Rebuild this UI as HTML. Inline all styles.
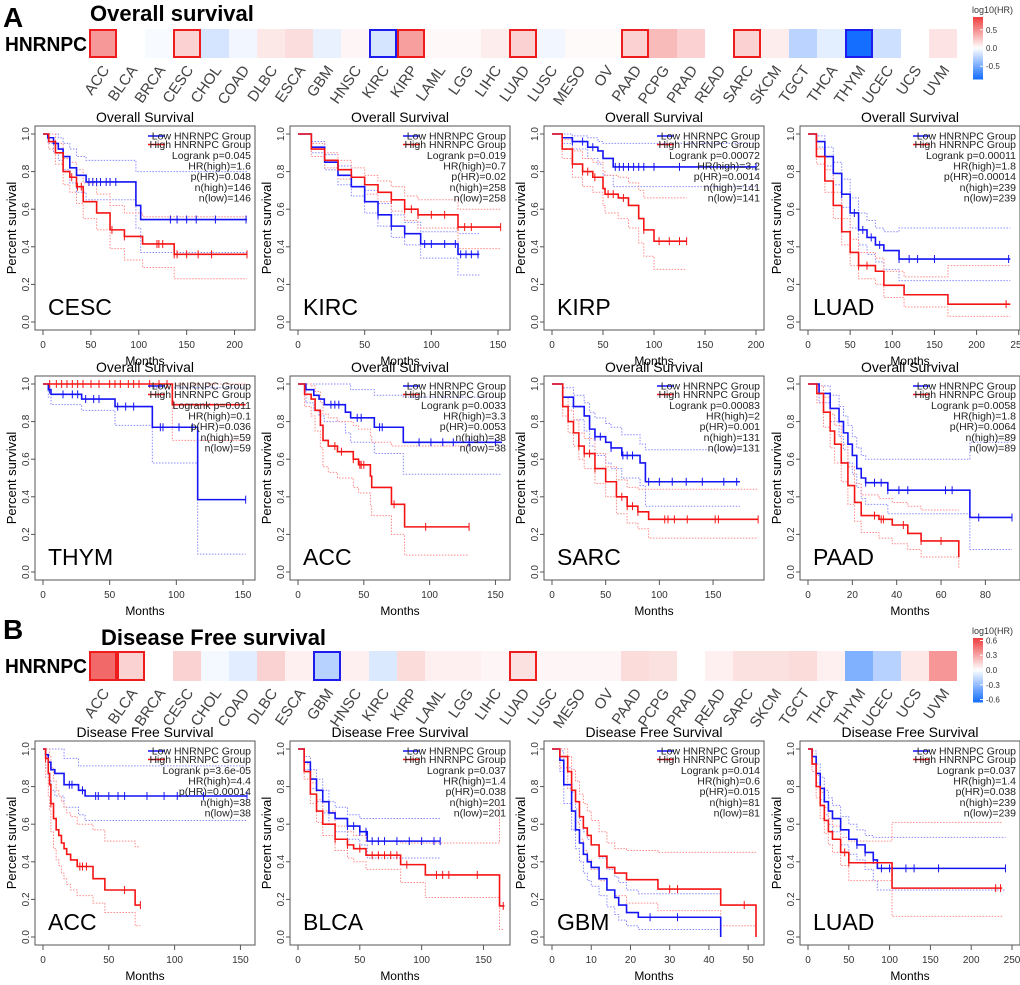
<!DOCTYPE html>
<html><head><meta charset="utf-8">
<style>
html,body{margin:0;padding:0;background:#fff;}
svg{display:block;font-family:"Liberation Sans",Arial,sans-serif;}
</style></head>
<body>
<svg id="fig" width="1020" height="985" viewBox="0 0 1020 985" xmlns="http://www.w3.org/2000/svg">
<text x="3" y="27" font-size="28" font-weight="bold">A</text>
<text x="90" y="21" font-size="22" font-weight="bold">Overall survival</text>
<text x="5" y="51" font-size="20" font-weight="bold" textLength="82" lengthAdjust="spacingAndGlyphs">HNRNPC</text>
<text x="3" y="639" font-size="28" font-weight="bold">B</text>
<text x="101" y="645" font-size="22" font-weight="bold">Disease Free survival</text>
<text x="5" y="673" font-size="20" font-weight="bold" textLength="82" lengthAdjust="spacingAndGlyphs">HNRNPC</text>
</svg>
<script>
const cancers=["ACC","BLCA","BRCA","CESC","CHOL","COAD","DLBC","ESCA","GBM","HNSC","KIRC","KIRP","LAML","LGG","LIHC","LUAD","LUSC","MESO","OV","PAAD","PCPG","PRAD","READ","SARC","SKCM","TGCT","THCA","THYM","UCEC","UCS","UVM"];
const osLogHR=[0.45,0,-0.03,0.2,-0.15,-0.05,0.1,0.15,-0.08,0.04,-0.15,0.42,0.03,0.03,0.08,0.2,-0.05,0.02,0.02,0.2,0.3,0.2,0,0.2,0.08,-0.25,-0.1,-0.85,-0.18,0,0.12];
const osSig=[1,0,0,1,0,0,0,0,0,0,-1,1,0,0,0,1,0,0,0,1,0,0,0,1,0,0,0,-1,0,0,0];
const dfsLogHR=[0.5,0.15,0,0.15,-0.03,-0.08,0.15,0.05,-0.2,0.05,-0.1,0.12,0.05,0.05,0.03,0.1,0.03,0.03,0.03,0.12,0.1,0,0.05,0.1,0.1,0.12,0.05,-0.35,-0.2,0.08,0.35];
const dfsSig=[1,1,0,0,0,0,0,0,-1,0,0,0,0,0,0,1,0,0,0,0,0,0,0,0,0,0,0,0,0,0,0];
const osLegendTicks=[0.5,0,-0.5];
const dfsLegendTicks=[0.6,0.3,0,-0.3,-0.6];

const cescLowT=[0,5,11,16,21,28,35,45,97,102,213],cescLowS=[1,0.98,0.95,0.92,0.88,0.82,0.78,0.745,0.62,0.545,0.545],cescLowU=[1,1,1,0.98,0.95,0.92,0.88,0.86,0.8,0.8,0.8],cescLowL=[1,0.95,0.9,0.86,0.81,0.74,0.69,0.65,0.5,0.37,0.37];
const cescHighT=[0,6,13,21,28,35,42,56,70,85,104,137,213],cescHighS=[1,0.96,0.9,0.8,0.77,0.72,0.64,0.58,0.49,0.455,0.415,0.36,0.36],cescHighU=[1,1,0.95,0.87,0.85,0.81,0.74,0.68,0.62,0.58,0.56,0.56,0.56],cescHighL=[1,0.92,0.84,0.73,0.69,0.63,0.55,0.49,0.39,0.33,0.29,0.23,0.23];
const kircLowT=[0,10,20,30,40,50,60,70,80,92,120,136],kircLowS=[1,0.93,0.85,0.78,0.72,0.64,0.57,0.51,0.47,0.415,0.36,0.36],kircLowU=[1,0.96,0.89,0.83,0.77,0.7,0.63,0.57,0.53,0.48,0.47,0.47],kircLowL=[1,0.9,0.81,0.73,0.67,0.58,0.51,0.45,0.41,0.34,0.25,0.25];
const kircHighT=[0,10,20,30,40,50,60,70,80,90,120,152],kircHighS=[1,0.92,0.86,0.81,0.77,0.73,0.69,0.65,0.6,0.57,0.505,0.505],kircHighU=[1,0.95,0.9,0.86,0.82,0.78,0.75,0.72,0.67,0.65,0.6,0.6],kircHighL=[1,0.88,0.82,0.76,0.72,0.68,0.64,0.59,0.54,0.5,0.39,0.39];
const kirpLowT=[0,10,20,35,45,50,60,200],kirpLowS=[1,0.98,0.96,0.93,0.91,0.87,0.825,0.825],kirpLowU=[1,1,0.99,0.98,0.96,0.95,0.95,0.95],kirpLowL=[1,0.95,0.92,0.87,0.84,0.78,0.72,0.72];
const kirpHighT=[0,10,20,30,40,50,52,65,75,85,90,100,132],kirpHighS=[1,0.92,0.84,0.8,0.77,0.71,0.68,0.66,0.62,0.55,0.49,0.43,0.43],kirpHighU=[1,0.97,0.91,0.87,0.85,0.8,0.78,0.77,0.74,0.7,0.66,0.66,0.66],kirpHighL=[1,0.87,0.77,0.72,0.69,0.62,0.58,0.55,0.5,0.42,0.35,0.28,0.28];
const luadLowT=[0,10,20,30,40,50,60,70,80,90,108,240],luadLowS=[1,0.96,0.88,0.79,0.68,0.58,0.49,0.45,0.41,0.38,0.335,0.335],luadLowU=[1,0.99,0.93,0.85,0.76,0.66,0.58,0.54,0.5,0.48,0.5,0.5],luadLowL=[1,0.93,0.83,0.73,0.61,0.5,0.41,0.36,0.32,0.28,0.22,0.22];
const luadHighT=[0,10,20,30,40,50,60,80,90,114,166,240],luadHighS=[1,0.88,0.75,0.62,0.48,0.37,0.3,0.27,0.195,0.145,0.095,0.095],luadHighU=[1,0.92,0.81,0.69,0.55,0.44,0.37,0.34,0.27,0.24,0.3,0.3],luadHighL=[1,0.84,0.69,0.55,0.41,0.3,0.23,0.2,0.13,0.08,0.03,0.03];
const thymLowT=[0,4,6,29,54,82,116,152],thymLowS=[1,0.97,0.945,0.92,0.88,0.77,0.385,0.385],thymLowU=[1,1,1,1,1,0.98,0.98,0.98],thymLowL=[1,0.93,0.89,0.86,0.78,0.58,0.095,0.095];
const thymHighT=[0,97,152],thymHighS=[1,0.89,0.89],thymHighU=[1,1,1],thymHighL=[1,0.7,0.7];
const accLowT=[0,6,12,16,20,36,40,58,80,155],accLowS=[1,0.97,0.94,0.92,0.89,0.85,0.82,0.77,0.69,0.69],accLowU=[1,1,1,1,1,1,0.97,0.94,0.93,0.93],accLowL=[1,0.9,0.86,0.83,0.8,0.74,0.69,0.63,0.52,0.52];
const accHighT=[0,5,10,13,17,19,23,30,42,46,55,56,71,81,130],accHighS=[1,0.945,0.92,0.86,0.78,0.7,0.67,0.64,0.6,0.57,0.51,0.45,0.36,0.24,0.24],accHighU=[1,1,0.99,0.96,0.9,0.84,0.82,0.8,0.78,0.76,0.72,0.69,0.67,0.67,0.67],accHighL=[1,0.88,0.83,0.75,0.66,0.56,0.53,0.5,0.45,0.42,0.35,0.3,0.2,0.09,0.09];
const sarcLowT=[0,10,20,30,35,40,50,55,65,82,87,175],sarcLowS=[1,0.93,0.88,0.83,0.76,0.72,0.69,0.66,0.62,0.58,0.48,0.48],sarcLowU=[1,0.98,0.94,0.9,0.85,0.82,0.79,0.77,0.73,0.68,0.65,0.65],sarcLowL=[1,0.88,0.81,0.75,0.67,0.62,0.58,0.55,0.5,0.46,0.35,0.35];
const sarcHighT=[0,10,15,20,25,30,40,50,60,70,80,90,192],sarcHighS=[1,0.88,0.8,0.74,0.67,0.63,0.55,0.48,0.4,0.35,0.32,0.28,0.28],sarcHighU=[1,0.93,0.86,0.81,0.74,0.71,0.63,0.56,0.49,0.45,0.44,0.44,0.44],sarcHighL=[1,0.83,0.74,0.67,0.6,0.55,0.47,0.4,0.31,0.26,0.23,0.18,0.18];
const paadLowT=[0,5,10,14,16,18,20,22,24,26,36,73,92],paadLowS=[1,0.95,0.87,0.8,0.74,0.68,0.62,0.55,0.5,0.475,0.435,0.29,0.29],paadLowU=[1,0.99,0.94,0.88,0.83,0.78,0.72,0.66,0.62,0.6,0.6,0.69,0.69],paadLowL=[1,0.9,0.8,0.72,0.65,0.58,0.52,0.45,0.39,0.36,0.31,0.12,0.12];
const paadHighT=[0,4,7,10,12,15,18,21,24,32,38,45,51,68],paadHighS=[1,0.95,0.85,0.75,0.68,0.58,0.46,0.37,0.3,0.28,0.25,0.205,0.165,0.08],paadHighU=[1,0.99,0.93,0.84,0.78,0.68,0.56,0.47,0.41,0.39,0.37,0.35,0.33,0.33],paadHighL=[1,0.9,0.77,0.66,0.58,0.48,0.36,0.27,0.21,0.18,0.15,0.12,0.08,0.02];
const daccLowT=[0,2,4,6,9,16,27,32,155],daccLowS=[1,0.97,0.93,0.89,0.87,0.81,0.78,0.75,0.75],daccLowU=[1,1,1,1,1,0.95,0.91,0.91,0.91],daccLowL=[1,0.9,0.84,0.78,0.75,0.69,0.65,0.62,0.62];
const daccHighT=[0,2,4,5,6,8,10,12,14,16,18,21,26,38,47,70,74],daccHighS=[1,0.95,0.87,0.81,0.71,0.63,0.57,0.54,0.5,0.47,0.44,0.41,0.375,0.31,0.25,0.17,0.17],daccHighU=[1,1,1,0.96,0.9,0.83,0.78,0.75,0.72,0.69,0.66,0.64,0.6,0.57,0.51,0.48,0.48],daccHighL=[1,0.85,0.75,0.67,0.56,0.47,0.41,0.38,0.34,0.31,0.28,0.25,0.22,0.18,0.13,0.06,0.06];
const blcaLowT=[0,5,10,15,20,25,30,40,50,56,115],blcaLowS=[1,0.93,0.84,0.78,0.72,0.66,0.63,0.59,0.56,0.51,0.51],blcaLowU=[1,0.96,0.89,0.84,0.78,0.72,0.69,0.65,0.63,0.63,0.63],blcaLowL=[1,0.89,0.79,0.72,0.66,0.6,0.56,0.52,0.49,0.42,0.42];
const blcaHighT=[0,5,10,15,20,30,40,45,55,83,103,163,167],blcaHighS=[1,0.88,0.76,0.67,0.6,0.52,0.49,0.47,0.435,0.385,0.33,0.165,0.165],blcaHighU=[1,0.92,0.82,0.73,0.67,0.59,0.56,0.54,0.51,0.5,0.5,0.7,0.7],blcaHighL=[1,0.84,0.71,0.61,0.54,0.46,0.42,0.4,0.36,0.29,0.21,0.04,0.04];
const gbmLowT=[0,2,3,5,6,7,8,9,10,12,14,16,17,19,22,43],gbmLowS=[1,0.94,0.81,0.67,0.57,0.5,0.44,0.4,0.37,0.31,0.25,0.21,0.17,0.13,0.105,0],gbmLowU=[1,0.99,0.9,0.77,0.68,0.62,0.56,0.52,0.49,0.42,0.36,0.32,0.29,0.25,0.23,0.23],gbmLowL=[1,0.88,0.71,0.57,0.47,0.4,0.34,0.3,0.27,0.22,0.16,0.12,0.09,0.06,0.04,0.04];
const gbmHighT=[0,2,4,5,6,7,8,9,10,12,14,16,19,27,43,52],gbmHighS=[1,0.96,0.88,0.78,0.72,0.64,0.58,0.54,0.49,0.43,0.37,0.34,0.305,0.255,0.17,0],gbmHighU=[1,1,0.96,0.89,0.83,0.76,0.71,0.67,0.62,0.56,0.5,0.47,0.46,0.45,0.45,0.45],gbmHighL=[1,0.9,0.79,0.67,0.61,0.52,0.46,0.41,0.36,0.3,0.25,0.22,0.18,0.14,0.06,0.06];
const dluadLowT=[0,5,10,15,20,25,30,40,50,60,70,80,85,242],dluadLowS=[1,0.96,0.87,0.79,0.72,0.67,0.63,0.57,0.52,0.49,0.45,0.41,0.365,0.365],dluadLowU=[1,0.99,0.92,0.85,0.78,0.74,0.7,0.64,0.6,0.57,0.54,0.53,0.53,0.53],dluadLowL=[1,0.92,0.82,0.73,0.65,0.6,0.56,0.49,0.44,0.41,0.36,0.3,0.25,0.25];
const dluadHighT=[0,5,10,15,20,25,30,40,50,103,238],dluadHighS=[1,0.92,0.8,0.7,0.62,0.56,0.52,0.45,0.395,0.26,0.26],dluadHighU=[1,0.96,0.86,0.77,0.69,0.63,0.59,0.53,0.51,0.61,0.61],dluadHighL=[1,0.88,0.74,0.63,0.55,0.49,0.45,0.38,0.3,0.11,0.11];

const panelNames=["CESC","KIRC","KIRP","LUAD","THYM","ACC","SARC","PAAD","ACC","BLCA","GBM","LUAD"];
const panelXmax=[213,153,200,242,153,155,190,92,155,165,52,250];
const panelTicks=[[0,50,100,150,200],[0,50,100,150],[0,50,100,150,200],[0,50,100,150,200,250],[0,50,100,150],[0,50,100,150],[0,50,100,150],[0,20,40,60,80],[0,50,100,150],[0,50,100,150],[0,10,20,30,40,50],[0,50,100,150,200,250]];
const panelLogrank=["0.045","0.019","0.00072","0.00011","0.011","0.0033","0.00083","0.0058","3.6e-05","0.037","0.014","0.037"];
const panelHR=["1.6","0.7","3.2","1.8","0.1","3.3","2","1.8","4.4","1.4","0.6","1.4"];
const panelPHR=["0.048","0.02","0.0014","0.00014","0.036","0.0053","0.001","0.0064","0.00014","0.038","0.015","0.038"];
const panelN=["146","258","141","239","59","38","131","89","38","201","81","239"];
const lowCens=[[48,52,56,60,66,70,76,133,140,150,160,180,212],[60,70,80,95,100,110,118,122,126,130,135],[20,30,40,62,66,70,75,80,85,90,100,125,200],[40,55,65,75,85,108,120,130,150,238],[5,15,22,26,32,38,42,56,62,68,88,90,102,112,152],[25,28,31,45,48,62,64,92,101,110,118,130,150],[40,45,55,66,70,75,90,100,112,125,140,160,172],[26,30,33,36,41,45,62,65,77,92],[20,22,30,40,42,50,57,62,79,92,102,122,155],[40,45,50,55,60,65,70,80,90,100,110,115],[25,32],[60,70,80,90,100,120,130,160,242]];
const highCens=[[30,36,40,72,85,119,121,125,137,140,150,162,176,213],[70,80,85,90,100,110,120,125,130,152],[20,30,35,42,55,60,70,90,105,115,125,132],[60,70,235],[5,10,14,18,22,26,30,36,42,50,54,58,64,68,72,80,87,93,98],[28,33,42,47,48,50,73,97,130],[25,30,35,40,65,70,75,80,105,108,114,126,152,155,192],[30,33,34,43,51,60],[2,6,28,30,33,62,74],[30,40,50,60,65,70,75,80,88,112,117,122,145,166],[30,32,49],[45,50,230,236]];
const panelData=[
 [cescLowT,cescLowS,cescLowU,cescLowL,cescHighT,cescHighS,cescHighU,cescHighL],
 [kircLowT,kircLowS,kircLowU,kircLowL,kircHighT,kircHighS,kircHighU,kircHighL],
 [kirpLowT,kirpLowS,kirpLowU,kirpLowL,kirpHighT,kirpHighS,kirpHighU,kirpHighL],
 [luadLowT,luadLowS,luadLowU,luadLowL,luadHighT,luadHighS,luadHighU,luadHighL],
 [thymLowT,thymLowS,thymLowU,thymLowL,thymHighT,thymHighS,thymHighU,thymHighL],
 [accLowT,accLowS,accLowU,accLowL,accHighT,accHighS,accHighU,accHighL],
 [sarcLowT,sarcLowS,sarcLowU,sarcLowL,sarcHighT,sarcHighS,sarcHighU,sarcHighL],
 [paadLowT,paadLowS,paadLowU,paadLowL,paadHighT,paadHighS,paadHighU,paadHighL],
 [daccLowT,daccLowS,daccLowU,daccLowL,daccHighT,daccHighS,daccHighU,daccHighL],
 [blcaLowT,blcaLowS,blcaLowU,blcaLowL,blcaHighT,blcaHighS,blcaHighU,blcaHighL],
 [gbmLowT,gbmLowS,gbmLowU,gbmLowL,gbmHighT,gbmHighS,gbmHighU,gbmHighL],
 [dluadLowT,dluadLowS,dluadLowU,dluadLowL,dluadHighT,dluadHighS,dluadHighU,dluadHighL]];

const NS="http://www.w3.org/2000/svg";
const svg=document.getElementById("fig");
function mk(tag,attrs,parent,txt){const e=document.createElementNS(NS,tag);for(const k in attrs)e.setAttribute(k,attrs[k]);if(txt!==undefined)e.textContent=txt;(parent||svg).appendChild(e);return e;}

function colorFor(v,max){
  const f=Math.min(1,Math.abs(v)/max);
  let r,g,b;
  if(v>=0){r=255-(255-238)*f;g=255-(255-60)*f;b=255-(255-60)*f;}
  else{r=255-(255-20)*f;g=255-(255-110)*f;b=255;}
  return `rgb(${Math.round(r)},${Math.round(g)},${Math.round(b)})`;
}
function heatmap(vals,sig,y0,h,max,ticks,ly0,ly1,prefix){
  const g=mk("g",{});
  
  
  const x0=89,w=28;
  vals.forEach((v,i)=>{
    const r=mk("rect",{x:x0+i*w,y:y0,width:w,height:h,fill:colorFor(v,max)},g);
    
    
  });
  sig.forEach((s,i)=>{
    if(!s)return;
    const r=mk("rect",{x:x0+i*w+1,y:y0+1,width:w-2,height:h-2,fill:"none",stroke:s>0?"#ee1c1c":"#1c1cee","stroke-width":2},g);
    
    
  });
  cancers.forEach((c,i)=>{
    const cx=x0+i*w+w/2+7,cy=y0+h+12;
    const t=mk("text",{x:cx,y:cy,"text-anchor":"end","font-size":15,fill:"#444",transform:`rotate(-55 ${cx} ${cy})`},g,c);
    
    
  });
  const lg=mk("g",{},g);
  
  
  const t0=mk("text",{x:972,y:ly0-4,"font-size":9,fill:"#333"},lg,"log10(HR)");
  
  
  const n=30;
  for(let k=0;k<n;k++){
    const v=max-(2*max)*(k+0.5)/n;
    mk("rect",{x:973,y:ly0+(ly1-ly0)*k/n,width:10,height:(ly1-ly0)/n+0.5,fill:colorFor(v,max)},lg);
  }
  ticks.forEach(tv=>{
    const yy=ly0+(max-tv)/(2*max)*(ly1-ly0);
    mk("line",{x1:980,x2:983,y1:yy,y2:yy,stroke:"#fff"},lg);
    const t=mk("text",{x:986,y:yy+3,"font-size":8,fill:"#333"},lg,tv.toFixed(1));
    
    
  });
}
heatmap(osLogHR,osSig,29,29,0.85,osLegendTicks,17,79,"os");
heatmap(dfsLogHR,dfsSig,651,30,0.65,dfsLegendTicks,638,702,"dfs");

const colX=[0,255,509,765],rowY=[105,355,720];
function survStep(T,S,t){let s=S[0];for(let i=0;i<T.length;i++){if(T[i]<=t)s=S[i];}return s;}
function stepPath(T,S,xs,ys){let d=`M${xs(T[0])},${ys(S[0])}`;for(let i=1;i<T.length;i++){d+=`H${xs(T[i])}V${ys(S[i])}`;}return d;}

panelData.forEach((pd,p)=>{
  const ox=colX[p%4],oy=rowY[Math.floor(p/4)];
  const dfs=p>=8;
  const xmax=panelXmax[p];
  const xs=t=>ox+43+t/xmax*204;
  const ys=s=>oy+29+(1-s)*188;
  const g=mk("g",{});
  
  
  const tt=mk("text",{x:ox+145,y:oy+17,"text-anchor":"middle","font-size":14},g,dfs?"Disease Free Survival":"Overall Survival");
  
  
  const fr=mk("rect",{x:ox+35,y:oy+21,width:220,height:204,fill:"none",stroke:"#555","stroke-width":1},g);
  
  
  [0,0.2,0.4,0.6,0.8,1].forEach(v=>{
    mk("line",{x1:ox+31,x2:ox+35,y1:ys(v),y2:ys(v),stroke:"#555"},g);
    const t=mk("text",{x:ox+29,y:ys(v),"text-anchor":"middle","font-size":10,fill:"#333",transform:`rotate(-90 ${ox+29} ${ys(v)})`},g,v.toFixed(1));
    
    
  });
  const yl=mk("text",{x:ox+16,y:oy+123,"text-anchor":"middle","font-size":13,transform:`rotate(-90 ${ox+16} ${oy+123})`},g,"Percent survival");
  
  
  panelTicks[p].forEach(v=>{
    mk("line",{x1:xs(v),x2:xs(v),y1:oy+225,y2:oy+230,stroke:"#555"},g);
    const t=mk("text",{x:xs(v),y:oy+243,"text-anchor":"middle","font-size":10,fill:"#333"},g,String(v));
    
    
  });
  const xl=mk("text",{x:ox+145,y:oy+260,"text-anchor":"middle","font-size":12},g,"Months");
  
  
  const [lT,lS,lU,lL,hT,hS,hU,hL]=pd;
  const series=[[lT,lS,lU,lL,"#1414f5","#8a8aff","low",lowCens[p]],[hT,hS,hU,hL,"#f51414","#ff8a8a","high",highCens[p]]];
  series.forEach(([T,S,U,L,c,cl,nm,cens])=>{
    [U,L].forEach((arr,k)=>{
      const e=mk("path",{d:stepPath(T,arr,xs,ys),fill:"none",stroke:cl,"stroke-width":1,"stroke-dasharray":"1.5,1.5"},g);
      
      
    });
  });
  series.forEach(([T,S,U,L,c,cl,nm,cens])=>{
    const e=mk("path",{d:stepPath(T,S,xs,ys),fill:"none",stroke:c,"stroke-width":1.6},g);
    
    
    cens.forEach(t=>{
      const x=xs(t),y=ys(survStep(T,S,t));
      const m=mk("path",{d:`M${x},${y-4}V${y+4}`,stroke:c,"stroke-width":1},g);
      
      
    });
  });
  const lx=ox+148;
  [["Low HNRNPC Group","#1414f5",31],["High HNRNPC Group","#f51414",39.5]].forEach(([tx,c,y])=>{
    const ln=mk("line",{x1:lx,x2:lx+17,y1:oy+y,y2:oy+y,stroke:c,"stroke-width":1.6},g);
    
    
    const t=mk("text",{x:ox+251,y:oy+y+3.5,"text-anchor":"end","font-size":10.5,fill:"#222"},g,tx);
    
    
  });
  const stats=["Logrank p="+panelLogrank[p],"HR(high)="+panelHR[p],"p(HR)="+panelPHR[p],"n(high)="+panelN[p],"n(low)="+panelN[p]];
  stats.forEach((s,i)=>{
    const t=mk("text",{x:ox+251,y:oy+50.5+i*10.6+3.5,"text-anchor":"end","font-size":10.5,fill:"#222"},g,s);
    
    
  });
  const cn=mk("text",{x:ox+48,y:oy+210,"font-size":23},g,panelNames[p]);
  
  
});
</script>
</body></html>
